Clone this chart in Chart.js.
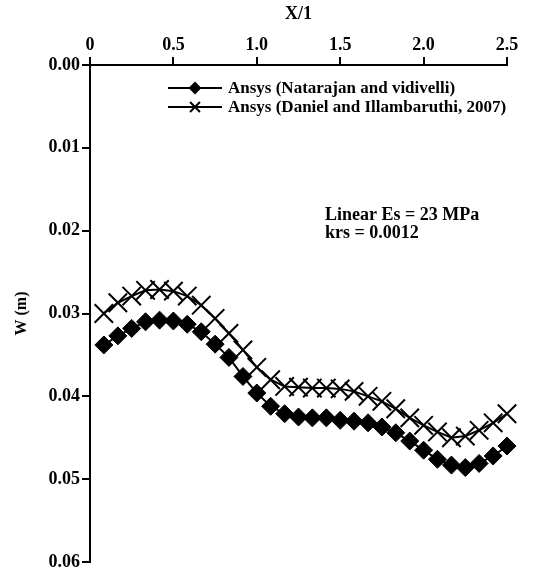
<!DOCTYPE html>
<html>
<head>
<meta charset="utf-8">
<script src="https://cdn.jsdelivr.net/npm/chart.js@4/dist/chart.umd.min.js"></script>
<style>
html,body{margin:0;padding:0;background:#fff;}
#wrap{width:533px;height:581px;position:relative;}
</style>
</head>
<body>
<div id="wrap"><canvas id="c" width="533" height="581"></canvas></div>
<script>
// X/1 positions (k/12)
const xValues = [0.083,0.167,0.25,0.333,0.417,0.5,0.583,0.667,0.75,0.833,0.917,1.0,1.083,1.167,1.25,1.333,1.417,1.5,1.583,1.667,1.75,1.833,1.917,2.0,2.083,2.167,2.25,2.333,2.417,2.5];
const natarajan = [0.0338,0.0327,0.0318,0.0310,0.0308,0.0309,0.0313,0.0322,0.0337,0.0353,0.0376,0.0396,0.0412,0.0421,0.0425,0.0426,0.0426,0.0429,0.0430,0.0432,0.0437,0.0444,0.0454,0.0465,0.0476,0.0483,0.0486,0.0481,0.0472,0.0460];
const daniel = [0.0300,0.0287,0.0279,0.0272,0.0271,0.0273,0.0279,0.0290,0.0306,0.0324,0.0344,0.0365,0.0380,0.0388,0.0389,0.0390,0.0390,0.0391,0.0394,0.0400,0.0406,0.0415,0.0426,0.0435,0.0443,0.0450,0.0448,0.0441,0.0432,0.0421];
const seriesLabels = ["Ansys (Natarajan and vidivelli)", "Ansys (Daniel and Illambaruthi, 2007)"];
const xTicks = [0, 0.5, 1.0, 1.5, 2.0, 2.5];
const yTicks = [0.00, 0.01, 0.02, 0.03, 0.04, 0.05, 0.06];
const annotationLines = ["Linear Es = 23 MPa", "krs = 0.0012"];

const FONT = "'Liberation Serif', 'Times New Roman', serif";

const toPts = (xs, ys) => xs.map((x, i) => ({x: x, y: ys[i]}));

const legendPlugin = {
  id: 'customLegend',
  afterDraw(chart) {
    const ctx = chart.ctx;
    const ds = chart.data.datasets;
    const rows = [88, 107];
    ctx.save();
    ds.forEach((d, i) => {
      const y = rows[i];
      ctx.strokeStyle = '#000';
      ctx.lineWidth = 2;
      ctx.beginPath();
      ctx.moveTo(168, y);
      ctx.lineTo(222, y);
      ctx.stroke();
      Chart.helpers.drawPoint(ctx, {pointStyle: d.pointStyle, radius: i === 0 ? 5 : 7, borderWidth: 2, rotation: 0}, 195, y);
      ctx.fillStyle = '#000';
      ctx.font = "bold 17px " + FONT;
      ctx.textAlign = 'left';
      ctx.textBaseline = 'middle';
      ctx.fillText(d.label, 228, y + 1);
    });
    ctx.font = "bold 18px " + FONT;
    ctx.textAlign = 'left';
    ctx.textBaseline = 'middle';
    annotationLines.forEach((t, i) => ctx.fillText(t, 325, 215 + i * 18));
    ctx.restore();
  }
};

new Chart(document.getElementById('c'), {
  type: 'line',
  data: {
    datasets: [
      {
        label: seriesLabels[0],
        data: toPts(xValues, natarajan),
        borderColor: '#000', backgroundColor: '#000',
        borderWidth: 2, pointStyle: 'rectRot', pointRadius: 9,
        pointBorderWidth: 1, pointBackgroundColor: '#000', pointBorderColor: '#000',
        tension: 0, clip: false
      },
      {
        label: seriesLabels[1],
        data: toPts(xValues, daniel),
        borderColor: '#000', backgroundColor: '#000',
        borderWidth: 2, pointStyle: 'crossRot', pointRadius: 13,
        pointBorderWidth: 2, pointBorderColor: '#000',
        tension: 0, clip: false
      }
    ]
  },
  options: {
    responsive: false,
    animation: false,
    layout: {padding: {left: 0, right: 26, top: 0, bottom: 19}},
    plugins: {legend: {display: false}, tooltip: {enabled: false}},
    scales: {
      x: {
        type: 'linear', position: 'top', min: 0, max: 2.5,
        afterFit(s) { s.height = 65; },
        afterBuildTicks(s) { s.ticks = xTicks.map(v => ({value: v})); },
        ticks: {
          color: '#000', padding: 1, maxRotation: 0,
          font: {family: FONT, size: 18, weight: 'bold'},
          callback: v => (v === 0 ? '0' : v.toFixed(1))
        },
        grid: {drawOnChartArea: false, drawTicks: true, tickLength: 8, color: '#000', lineWidth: 2},
        border: {display: true, color: '#000', width: 2},
        title: {display: true, text: 'X/1', color: '#000', padding: {top: 4, bottom: 0},
                font: {family: FONT, size: 18, weight: 'bold'}}
      },
      y: {
        type: 'linear', reverse: true, min: 0, max: 0.06,
        afterFit(s) { s.width = 90; },
        afterBuildTicks(s) { s.ticks = yTicks.map(v => ({value: v})); },
        ticks: {
          color: '#000', padding: 2,
          font: {family: FONT, size: 18, weight: 'bold'},
          callback: v => v.toFixed(2)
        },
        grid: {drawOnChartArea: false, drawTicks: true, tickLength: 8, color: '#000', lineWidth: 2},
        border: {display: true, color: '#000', width: 2},
        title: {display: true, text: 'W (m)', color: '#000', padding: {top: 12, bottom: 0},
                font: {family: FONT, size: 16, weight: 'bold'}}
      }
    }
  },
  plugins: [legendPlugin]
});
</script>
</body>
</html>
